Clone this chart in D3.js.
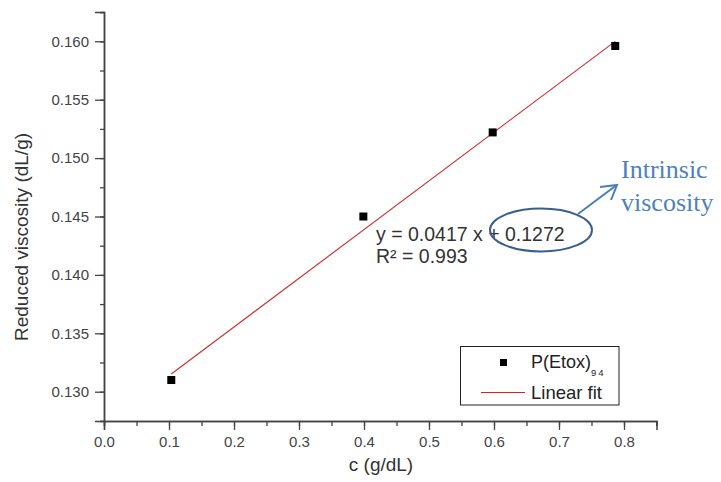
<!DOCTYPE html>
<html><head><meta charset="utf-8">
<script src="https://cdn.jsdelivr.net/npm/d3@7"></script>
<style>
html,body{margin:0;padding:0;background:#fff;}
svg{display:block;font-family:Arial,"Liberation Sans",sans-serif;}
</style></head>
<body>
<svg id="chart" width="721" height="482"></svg>
<script>
// ---- data ----
const concentration = [0.1035, 0.399, 0.598, 0.7865];
const reducedViscosity = [0.1310, 0.1450, 0.1522, 0.1596];
const fitSlope = 0.0417;
const fitIntercept = 0.1272;
const xTicks = [0.0, 0.1, 0.2, 0.3, 0.4, 0.5, 0.6, 0.7, 0.8];
const yTicks = [0.130, 0.135, 0.140, 0.145, 0.150, 0.155, 0.160];
const equationLines = ["y = 0.0417 x + 0.1272", "R² = 0.993"];
const annotationLines = ["Intrinsic", "viscosity"];

const svg = d3.select("#chart");
const x = d3.scaleLinear().domain([0, 0.85]).range([104, 656.5]);
const y = d3.scaleLinear().domain([0.1275, 0.1625]).range([420.9, 12.1]);
const axisColor = "#444";

// X axis
const xMinor = d3.range(0, 0.851, 0.05);
const xg = svg.append("g").attr("transform", `translate(0,${y(0.1275)})`);
xg.call(d3.axisBottom(x).tickValues(xMinor).tickSize(5).tickFormat(""));
xg.append("g").call(d3.axisBottom(x).tickValues(xTicks).tickSize(9).tickPadding(6).tickFormat(d3.format(".1f")));
xg.selectAll("path.domain").attr("stroke", axisColor).attr("stroke-width", 1.5);
xg.selectAll("line").attr("stroke", axisColor).attr("stroke-width", 1.3);
xg.selectAll("text").attr("font-size", 15).attr("fill", "#444").attr("font-family", "Arial, Liberation Sans, sans-serif");

// Y axis
const yMinor = d3.range(0.1275, 0.16251, 0.0025);
const yg = svg.append("g").attr("transform", `translate(${x(0)},0)`);
yg.call(d3.axisLeft(y).tickValues(yMinor).tickSize(4).tickFormat(""));
yg.append("g").call(d3.axisLeft(y).tickValues(yTicks).tickSize(9).tickPadding(6).tickFormat(d3.format(".3f")));
yg.selectAll("path.domain").attr("stroke", axisColor).attr("stroke-width", 1.5);
yg.selectAll("line").attr("stroke", axisColor).attr("stroke-width", 1.3);
yg.selectAll("text").attr("font-size", 15).attr("fill", "#444").attr("font-family", "Arial, Liberation Sans, sans-serif");

// Axis titles
svg.append("text").attr("x", 381).attr("y", 471).attr("text-anchor", "middle")
  .attr("font-size", 19).attr("fill", "#333").text("c (g/dL)");
svg.append("text").attr("transform", `translate(28,${237}) rotate(-90)`).attr("text-anchor", "middle")
  .attr("font-size", 19).attr("fill", "#333").text("Reduced viscosity (dL/g)");

// Fit line
const xmin = d3.min(concentration), xmax = d3.max(concentration);
svg.append("line")
  .attr("x1", x(xmin)).attr("y1", y(fitSlope * xmin + fitIntercept))
  .attr("x2", x(xmax)).attr("y2", y(fitSlope * xmax + fitIntercept))
  .attr("stroke", "#cc2a2a").attr("stroke-width", 1.1);

// Points
svg.selectAll("rect.pt").data(concentration).join("rect").attr("class", "pt")
  .attr("x", (d) => x(d) - 4).attr("y", (d, i) => y(reducedViscosity[i]) - 4)
  .attr("width", 8).attr("height", 8).attr("fill", "#000");

// Equation text
svg.selectAll("text.eq").data(equationLines).join("text").attr("class", "eq")
  .attr("x", 376).attr("y", (d, i) => 240.5 + i * 22.6)
  .attr("font-size", 19.5).attr("fill", "#333").text(d => d);

// Ellipse around intercept
svg.append("ellipse").attr("cx", 541).attr("cy", 230).attr("rx", 51).attr("ry", 21.5)
  .attr("fill", "none").attr("stroke", "#3b5e8e").attr("stroke-width", 2);

// Arrow
const arrowColor = "#4a7ebb";
svg.append("line").attr("x1", 578).attr("y1", 214).attr("x2", 616).attr("y2", 185.5)
  .attr("stroke", arrowColor).attr("stroke-width", 2);
svg.append("path").attr("d", "M600,187 L617,185 L611,200")
  .attr("fill", "none").attr("stroke", arrowColor).attr("stroke-width", 2).attr("stroke-linejoin", "miter");

// Annotation text
svg.selectAll("text.ann").data(annotationLines).join("text").attr("class", "ann")
  .attr("x", 621).attr("y", (d, i) => 178 + i * 32.5)
  .attr("font-family", "'Liberation Serif','Times New Roman',serif")
  .attr("font-size", 26).attr("fill", "#4f81bd").text(d => d);

// Legend
const lg = svg.append("g");
lg.append("rect").attr("x", 460.5).attr("y", 346.5).attr("width", 158.5).attr("height", 58.5)
  .attr("fill", "#fff").attr("stroke", "#222").attr("stroke-width", 1);
lg.append("rect").attr("x", 500).attr("y", 359).attr("width", 7).attr("height", 7).attr("fill", "#000");
const t1 = lg.append("text").attr("x", 531).attr("y", 368).attr("font-size", 18).attr("fill", "#222");
t1.append("tspan").text("P(Etox)");
t1.append("tspan").attr("dy", 8).attr("font-size", 9.5).attr("letter-spacing", 2).text("94");
lg.append("line").attr("x1", 481).attr("x2", 525).attr("y1", 392.5).attr("y2", 392.5)
  .attr("stroke", "#e02020").attr("stroke-width", 1.2);
lg.append("text").attr("x", 531).attr("y", 399).attr("font-size", 18.5).attr("fill", "#222").text("Linear fit");
</script>
</body></html>
